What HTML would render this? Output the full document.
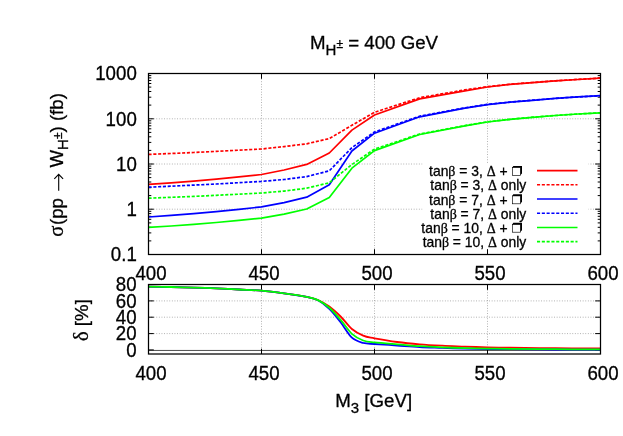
<!DOCTYPE html>
<html><head><meta charset="utf-8"><title>plot</title>
<style>
html,body{margin:0;padding:0;background:#fff;}
body{width:623px;height:436px;overflow:hidden;font-family:"Liberation Sans",sans-serif;}
svg{display:block;}
text{font-family:"Liberation Sans",sans-serif;fill:#000;stroke:#000;stroke-width:0.3px;}
.sy{font-family:"Liberation Serif",serif;}
</style></head><body>
<svg width="623" height="436" viewBox="0 0 623 436">
<rect width="623" height="436" fill="#fff"/>

<g stroke="#888" stroke-width="0.7" stroke-dasharray="0.9,1.7" fill="none">
<path d="M261.5,73.5 V254.5"/>
<path d="M261.5,284.5 V354.0"/>
<path d="M374.5,73.5 V254.5"/>
<path d="M374.5,284.5 V354.0"/>
<path d="M487.5,73.5 V254.5"/>
<path d="M487.5,284.5 V354.0"/>
<path d="M148.5,118.8 H600.5"/>
<path d="M148.5,164.0 H600.5"/>
<path d="M148.5,209.2 H600.5"/>
<path d="M148.5,300.9 H600.5"/>
<path d="M148.5,317.2 H600.5"/>
<path d="M148.5,333.6 H600.5"/>
</g>
<rect x="422.5" y="163.0" width="166" height="86.2" fill="#fff"/>
<path d="M148.5,350.45 H600.5" stroke="#222" stroke-width="0.8" fill="none"/>
<path d="M148.5,254.5 v-5.3 M148.5,73.5 v5.3 M148.5,354.0 v-5.3 M148.5,284.5 v5.3 M261.5,254.5 v-5.3 M261.5,73.5 v5.3 M261.5,354.0 v-5.3 M261.5,284.5 v5.3 M374.5,254.5 v-5.3 M374.5,73.5 v5.3 M374.5,354.0 v-5.3 M374.5,284.5 v5.3 M487.5,254.5 v-5.3 M487.5,73.5 v5.3 M487.5,354.0 v-5.3 M487.5,284.5 v5.3 M600.5,254.5 v-5.3 M600.5,73.5 v5.3 M600.5,354.0 v-5.3 M600.5,284.5 v5.3 M148.5,254.5 h5.3 M600.5,254.5 h-5.3 M148.5,240.9 h2.8 M600.5,240.9 h-2.8 M148.5,232.9 h2.8 M600.5,232.9 h-2.8 M148.5,227.3 h2.8 M600.5,227.3 h-2.8 M148.5,222.9 h2.8 M600.5,222.9 h-2.8 M148.5,219.3 h2.8 M600.5,219.3 h-2.8 M148.5,216.3 h2.8 M600.5,216.3 h-2.8 M148.5,213.6 h2.8 M600.5,213.6 h-2.8 M148.5,211.3 h2.8 M600.5,211.3 h-2.8 M148.5,209.2 h5.3 M600.5,209.2 h-5.3 M148.5,195.6 h2.8 M600.5,195.6 h-2.8 M148.5,187.7 h2.8 M600.5,187.7 h-2.8 M148.5,182.0 h2.8 M600.5,182.0 h-2.8 M148.5,177.6 h2.8 M600.5,177.6 h-2.8 M148.5,174.0 h2.8 M600.5,174.0 h-2.8 M148.5,171.0 h2.8 M600.5,171.0 h-2.8 M148.5,168.4 h2.8 M600.5,168.4 h-2.8 M148.5,166.1 h2.8 M600.5,166.1 h-2.8 M148.5,164.0 h5.3 M600.5,164.0 h-5.3 M148.5,150.4 h2.8 M600.5,150.4 h-2.8 M148.5,142.4 h2.8 M600.5,142.4 h-2.8 M148.5,136.8 h2.8 M600.5,136.8 h-2.8 M148.5,132.4 h2.8 M600.5,132.4 h-2.8 M148.5,128.8 h2.8 M600.5,128.8 h-2.8 M148.5,125.8 h2.8 M600.5,125.8 h-2.8 M148.5,123.1 h2.8 M600.5,123.1 h-2.8 M148.5,120.8 h2.8 M600.5,120.8 h-2.8 M148.5,118.8 h5.3 M600.5,118.8 h-5.3 M148.5,105.1 h2.8 M600.5,105.1 h-2.8 M148.5,97.2 h2.8 M600.5,97.2 h-2.8 M148.5,91.5 h2.8 M600.5,91.5 h-2.8 M148.5,87.1 h2.8 M600.5,87.1 h-2.8 M148.5,83.5 h2.8 M600.5,83.5 h-2.8 M148.5,80.5 h2.8 M600.5,80.5 h-2.8 M148.5,77.9 h2.8 M600.5,77.9 h-2.8 M148.5,75.6 h2.8 M600.5,75.6 h-2.8 M148.5,73.5 h5.3 M600.5,73.5 h-5.3 M148.5,349.9 h5.3 M600.5,349.9 h-5.3 M148.5,333.6 h5.3 M600.5,333.6 h-5.3 M148.5,317.2 h5.3 M600.5,317.2 h-5.3 M148.5,300.9 h5.3 M600.5,300.9 h-5.3 M148.5,284.5 h5.3 M600.5,284.5 h-5.3" stroke="#000" stroke-width="1" fill="none"/>
<g fill="none" stroke-width="1.7" stroke-linejoin="round">
<path d="M148.5,184.3 L171.1,182.8 L193.7,181.1 L216.3,179.1 L238.9,176.9 L261.5,174.5 L284.1,170.0 L306.7,164.4 L329.3,153.0 L351.9,130.1 L374.5,115.0 L419.7,98.9 L464.9,90.8 L487.5,87.0 L510.1,84.4 L532.7,82.6 L555.3,80.9 L577.9,79.5 L600.5,78.2" stroke="#ff0000"/>
<path d="M148.5,154.4 L171.1,153.5 L193.7,152.5 L216.3,151.4 L238.9,150.2 L261.5,149.0 L284.1,146.6 L306.7,143.8 L329.3,138.6 L351.9,125.3 L374.5,112.3 L419.7,97.7 L464.9,89.9 L487.5,86.7 L510.1,84.2 L532.7,82.5 L555.3,80.8 L577.9,79.4 L600.5,78.1" stroke="#ff0000" stroke-dasharray="3.1,1.7"/>
<path d="M148.5,217.0 L171.1,215.4 L193.7,213.6 L216.3,211.6 L238.9,209.4 L261.5,206.9 L284.1,202.6 L306.7,197.2 L329.3,184.7 L351.9,151.0 L374.5,133.2 L419.7,116.8 L464.9,108.2 L487.5,104.6 L510.1,102.2 L532.7,100.3 L555.3,98.4 L577.9,96.9 L600.5,95.7" stroke="#0000ff"/>
<path d="M148.5,187.2 L171.1,186.2 L193.7,185.1 L216.3,184.0 L238.9,182.7 L261.5,181.4 L284.1,179.5 L306.7,176.6 L329.3,170.8 L351.9,147.6 L374.5,132.0 L419.7,116.2 L464.9,107.8 L487.5,104.4 L510.1,102.1 L532.7,100.2 L555.3,98.4 L577.9,96.9 L600.5,95.7" stroke="#0000ff" stroke-dasharray="3.1,1.7"/>
<path d="M148.5,227.4 L171.1,226.0 L193.7,224.4 L216.3,222.5 L238.9,220.4 L261.5,218.1 L284.1,214.2 L306.7,209.0 L329.3,197.4 L351.9,168.2 L374.5,150.6 L419.7,134.5 L464.9,125.9 L487.5,122.0 L510.1,119.4 L532.7,117.3 L555.3,115.5 L577.9,114.0 L600.5,112.8" stroke="#00ff00"/>
<path d="M148.5,198.2 L171.1,197.3 L193.7,196.4 L216.3,195.3 L238.9,194.2 L261.5,193.0 L284.1,191.1 L306.7,188.2 L329.3,182.8 L351.9,164.5 L374.5,149.1 L419.7,134.0 L464.9,125.6 L487.5,121.8 L510.1,119.3 L532.7,117.2 L555.3,115.5 L577.9,114.0 L600.5,112.8" stroke="#00ff00" stroke-dasharray="3.1,1.7"/>
</g>
<g fill="none" stroke-width="1.8" stroke-linejoin="round">
<path d="M148.5,286.6 C152.3,286.7 163.6,286.8 171.1,287.0 C178.6,287.2 186.2,287.4 193.7,287.6 C201.2,287.8 208.8,288.1 216.3,288.4 C223.8,288.7 231.4,289.1 238.9,289.5 C246.4,289.9 254.0,290.1 261.5,290.7 C269.0,291.3 276.6,292.3 284.1,293.3 C291.6,294.3 301.1,295.7 306.7,296.8 C312.3,297.9 314.2,298.4 318.0,300.0 C321.8,301.6 325.5,303.9 329.3,306.6 C333.1,309.4 336.8,312.8 340.6,316.5 C344.4,320.2 348.1,325.8 351.9,329.0 C355.7,332.2 359.4,334.1 363.2,335.7 C367.0,337.3 368.9,337.3 374.5,338.4 C380.1,339.4 389.6,341.0 397.1,342.0 C404.6,343.0 412.2,343.7 419.7,344.3 C427.2,344.9 434.8,345.3 442.3,345.7 C449.8,346.1 457.4,346.3 464.9,346.6 C472.4,346.9 480.0,347.1 487.5,347.3 C495.0,347.5 498.8,347.6 510.1,347.7 C521.4,347.8 540.2,348.1 555.3,348.2 C570.4,348.3 593.0,348.4 600.5,348.5" stroke="#ff0000"/>
<path d="M148.5,286.6 C152.3,286.7 163.6,286.8 171.1,287.0 C178.6,287.2 186.2,287.4 193.7,287.6 C201.2,287.8 208.8,288.1 216.3,288.4 C223.8,288.7 231.4,289.1 238.9,289.5 C246.4,289.9 254.0,290.1 261.5,290.7 C269.0,291.3 276.6,292.3 284.1,293.3 C291.6,294.3 301.1,295.7 306.7,296.9 C312.3,298.1 314.2,298.3 318.0,300.3 C321.8,302.3 325.5,305.2 329.3,308.8 C333.1,312.4 336.8,317.4 340.6,322.2 C344.4,327.0 348.1,334.2 351.9,337.7 C355.7,341.1 359.4,341.8 363.2,342.9 C367.0,343.9 368.9,343.6 374.5,344.0 C380.1,344.4 389.6,345.0 397.1,345.5 C404.6,346.0 412.2,346.6 419.7,347.0 C427.2,347.4 434.8,347.6 442.3,347.9 C449.8,348.2 457.4,348.4 464.9,348.6 C472.4,348.8 480.0,348.9 487.5,349.0 C495.0,349.1 498.8,349.1 510.1,349.2 C521.4,349.3 540.2,349.4 555.3,349.5 C570.4,349.6 593.0,349.7 600.5,349.7" stroke="#0000ff"/>
<path d="M148.5,286.6 C152.3,286.7 163.6,286.8 171.1,287.0 C178.6,287.2 186.2,287.4 193.7,287.6 C201.2,287.8 208.8,288.1 216.3,288.4 C223.8,288.7 231.4,289.1 238.9,289.5 C246.4,289.9 254.0,290.1 261.5,290.7 C269.0,291.3 276.6,292.3 284.1,293.3 C291.6,294.3 301.1,295.7 306.7,296.8 C312.3,297.9 314.2,298.3 318.0,300.1 C321.8,301.9 325.5,304.5 329.3,307.8 C333.1,311.1 336.8,315.6 340.6,319.9 C344.4,324.2 348.1,330.4 351.9,333.8 C355.7,337.2 359.4,339.1 363.2,340.5 C367.0,341.9 368.9,341.8 374.5,342.4 C380.1,343.0 389.6,343.7 397.1,344.3 C404.6,344.9 412.2,345.7 419.7,346.2 C427.2,346.7 434.8,347.0 442.3,347.3 C449.8,347.6 457.4,347.9 464.9,348.1 C472.4,348.3 480.0,348.5 487.5,348.6 C495.0,348.7 498.8,348.8 510.1,348.9 C521.4,349.0 540.2,349.1 555.3,349.2 C570.4,349.3 593.0,349.4 600.5,349.4" stroke="#00ff00"/>
</g>
<rect x="148.5" y="73.5" width="452.0" height="181.0" fill="none" stroke="#000" stroke-width="1.25"/>
<rect x="148.5" y="284.5" width="452.0" height="69.5" fill="none" stroke="#000" stroke-width="1.25"/>
<g style="filter:grayscale(1)">
<g font-size="18.7" transform="scale(1,1.075)">
<text x="136.8" y="74.79" text-anchor="end">1000</text>
<text x="136.8" y="116.88" text-anchor="end">100</text>
<text x="136.8" y="158.98" text-anchor="end">10</text>
<text x="136.8" y="201.07" text-anchor="end">1</text>
<text x="136.8" y="243.16" text-anchor="end">0.1</text>
<text x="136.6" y="331.73" text-anchor="end">0</text>
<text x="136.6" y="316.52" text-anchor="end">20</text>
<text x="136.6" y="301.31" text-anchor="end">40</text>
<text x="136.6" y="286.10" text-anchor="end">60</text>
<text x="136.6" y="270.88" text-anchor="end">80</text>
<text x="151.0" y="260.47" text-anchor="middle">400</text>
<text x="151.0" y="353.49" text-anchor="middle">400</text>
<text x="264.0" y="260.47" text-anchor="middle">450</text>
<text x="264.0" y="353.49" text-anchor="middle">450</text>
<text x="377.0" y="260.47" text-anchor="middle">500</text>
<text x="377.0" y="353.49" text-anchor="middle">500</text>
<text x="490.0" y="260.47" text-anchor="middle">550</text>
<text x="490.0" y="353.49" text-anchor="middle">550</text>
<text x="603.0" y="260.47" text-anchor="middle">600</text>
<text x="603.0" y="353.49" text-anchor="middle">600</text>
</g>
<text x="310.0" y="48.8" font-size="18.7">M<tspan dy="5.9" font-size="15.0">H</tspan><tspan dy="-7.2" font-size="12.0">±</tspan><tspan dy="1.3" font-size="18.7"> = 400 GeV</tspan></text>
<text x="335.2" y="406.7" font-size="18.7">M<tspan dy="5.9" font-size="15.0">3</tspan><tspan dy="-5.9" font-size="18.7"> [GeV]</tspan></text>
<text transform="translate(63.1,236.7) rotate(-90)" font-size="20.5" class="sy">σ</text>
<text transform="translate(63.1,225.0) rotate(-90)" font-size="18.7">(pp</text>
<path d="M58.7,190.7 V174.5 M54.3,178.9 L58.7,174.3 L63.1,178.9" fill="none" stroke="#000" stroke-width="1.1"/>
<text transform="translate(63.1,167.6) rotate(-90)" font-size="18.7">W<tspan dy="5.3" font-size="15.0">H</tspan><tspan dy="-6.3" font-size="12.0">±</tspan><tspan dy="1.0" font-size="18.7">) (fb)</tspan></text>
<text transform="translate(87.7,341.0) rotate(-90)" font-size="18.7"><tspan class="sy" font-size="20.5">δ</tspan> [%]</text>
<text x="511.5" y="176.1" font-size="13.9" stroke-width="0.18" text-anchor="end" xml:space="preserve">tan<tspan class="sy">β</tspan> = 3, <tspan class="sy">Δ</tspan> + </text>
<g transform="translate(0,0.0)"><rect x="512.45" y="167.5" width="7.9" height="7.9" fill="#fff" stroke="#000" stroke-width="0.65"/><path d="M513.3,165.9 H522 V173.5 L520.4,174.9 V167.6 H512.3 Z" fill="#000"/></g>
<text x="526.3" y="190.3" font-size="13.9" stroke-width="0.18" text-anchor="end" xml:space="preserve">tan<tspan class="sy">β</tspan> = 3, <tspan class="sy">Δ</tspan> only</text>
<text x="511.5" y="204.5" font-size="13.9" stroke-width="0.18" text-anchor="end" xml:space="preserve">tan<tspan class="sy">β</tspan> = 7, <tspan class="sy">Δ</tspan> + </text>
<g transform="translate(0,28.4)"><rect x="512.45" y="167.5" width="7.9" height="7.9" fill="#fff" stroke="#000" stroke-width="0.65"/><path d="M513.3,165.9 H522 V173.5 L520.4,174.9 V167.6 H512.3 Z" fill="#000"/></g>
<text x="526.3" y="218.7" font-size="13.9" stroke-width="0.18" text-anchor="end" xml:space="preserve">tan<tspan class="sy">β</tspan> = 7, <tspan class="sy">Δ</tspan> only</text>
<text x="511.5" y="232.9" font-size="13.9" stroke-width="0.18" text-anchor="end" xml:space="preserve">tan<tspan class="sy">β</tspan> = 10, <tspan class="sy">Δ</tspan> + </text>
<g transform="translate(0,56.8)"><rect x="512.45" y="167.5" width="7.9" height="7.9" fill="#fff" stroke="#000" stroke-width="0.65"/><path d="M513.3,165.9 H522 V173.5 L520.4,174.9 V167.6 H512.3 Z" fill="#000"/></g>
<text x="526.3" y="247.1" font-size="13.9" stroke-width="0.18" text-anchor="end" xml:space="preserve">tan<tspan class="sy">β</tspan> = 10, <tspan class="sy">Δ</tspan> only</text>
</g>
<path d="M537,170.6 H577.5" stroke="#ff0000" stroke-width="1.55" fill="none"/>
<path d="M537,184.8 H577.5" stroke="#ff0000" stroke-width="1.55" fill="none" stroke-dasharray="3.1,1.7"/>
<path d="M537,199.0 H577.5" stroke="#0000ff" stroke-width="1.55" fill="none"/>
<path d="M537,213.2 H577.5" stroke="#0000ff" stroke-width="1.55" fill="none" stroke-dasharray="3.1,1.7"/>
<path d="M537,227.4 H577.5" stroke="#00ff00" stroke-width="1.55" fill="none"/>
<path d="M537,241.6 H577.5" stroke="#00ff00" stroke-width="1.55" fill="none" stroke-dasharray="3.1,1.7"/>
</svg></body></html>
